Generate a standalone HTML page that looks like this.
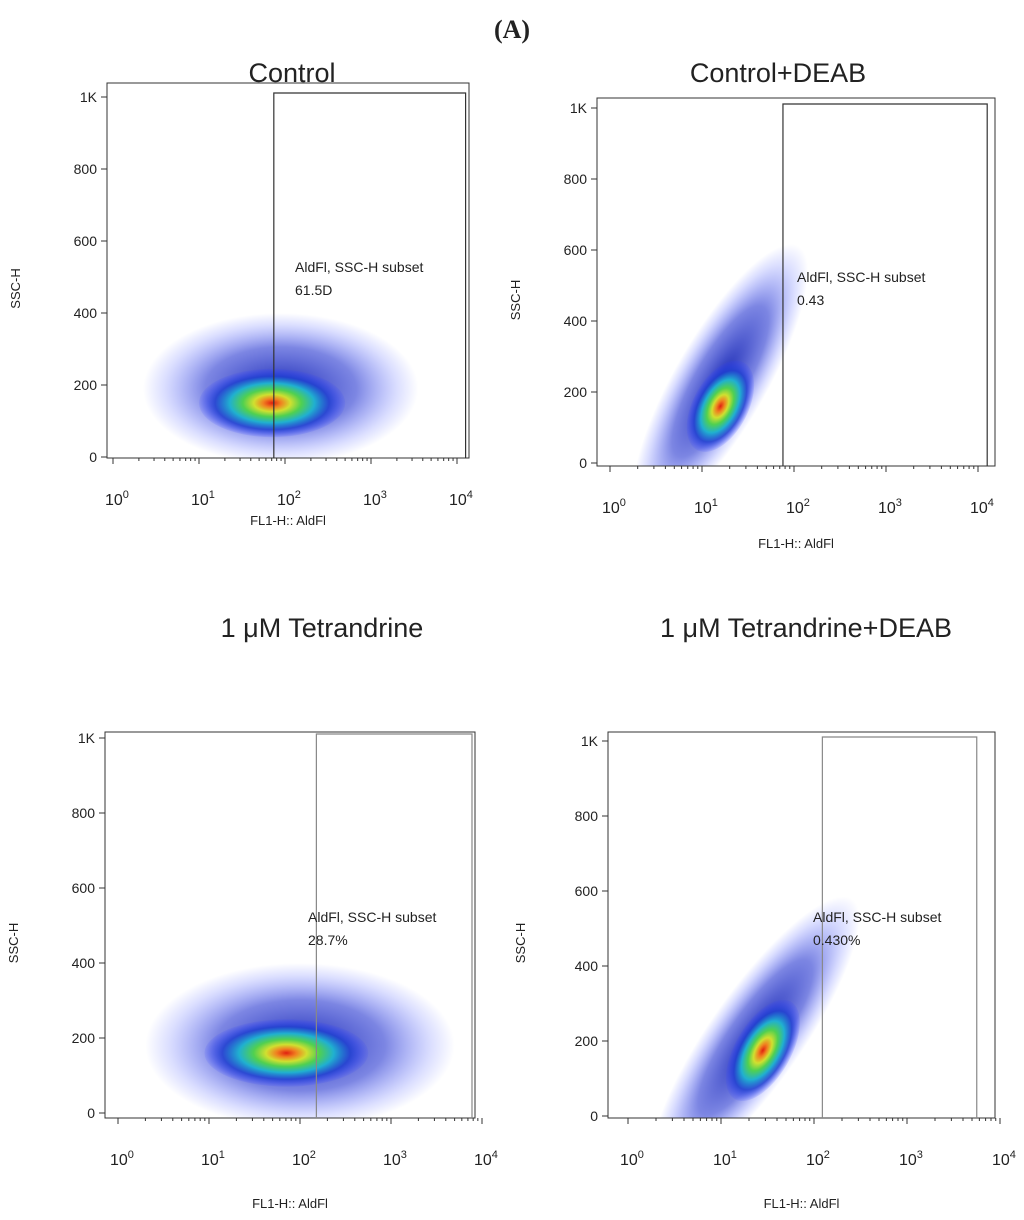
<!DOCTYPE html>
<html><head><meta charset="utf-8"><style>
body{margin:0;background:#fff;}
svg text{font-family:"Liberation Sans",sans-serif;fill:#222;}
</style></head><body>
<svg id="c" width="1024" height="1215" viewBox="0 0 1024 1215" xmlns="http://www.w3.org/2000/svg">
<defs>
<radialGradient id="dens">
<stop offset="0" stop-color="#e02010"/>
<stop offset="0.12" stop-color="#f08020"/>
<stop offset="0.25" stop-color="#d0e030"/>
<stop offset="0.4" stop-color="#50d050"/>
<stop offset="0.58" stop-color="#20b0d0"/>
<stop offset="0.78" stop-color="#2040d0" stop-opacity="0.85"/>
<stop offset="1" stop-color="#3040ff" stop-opacity="0.1"/>
</radialGradient>
<radialGradient id="halo">
<stop offset="0" stop-color="#1020b0" stop-opacity="0.95"/>
<stop offset="0.55" stop-color="#2535d0" stop-opacity="0.6"/>
<stop offset="0.85" stop-color="#5060ff" stop-opacity="0.2"/>
<stop offset="1" stop-color="#5060ff" stop-opacity="0"/>
</radialGradient>
</defs>
<text x="512" y="38" text-anchor="middle" font-size="26" font-weight="bold" style="font-family:'Liberation Serif',serif">(A)</text>
</svg>
<script>
// panel data
const panelTitles = ["Control","Control+DEAB","1 μM Tetrandrine","1 μM Tetrandrine+DEAB"];
const gateValues = ["61.5D","0.43","28.7%","0.430%"];
const yTickValues = [0,200,400,600,800,1000];
const yTickLabels = ["0","200","400","600","800","1K"];
const xTickDecades = [0,1,2,3,4];
const gateLeftDecade = [1.87,1.88,2.18,2.09];
const gateRightDecade = [4.1,4.1,3.89,3.75];
const gateTopValue = [1000,1000,1000,1000];
// clusters: [log10 x center, y center, x half-width (decades), y half-height, pixel rotation]
const haloClusters = [
 [1.95,190,1.6,210,0],
 [1.2,230,0.5,440,30],
 [2.0,180,1.7,220,0],
 [1.37,210,0.5,450,35]
];
const coreClusters = [
 [1.85,150,0.85,95,0],
 [1.2,160,0.3,140,28],
 [1.85,160,0.9,90,0],
 [1.45,175,0.3,150,30]
];
// layout (not data)
const L = [
 {fl:107,ft:83,fr:469,fb:458,x0:113,dec:86,y0:457,p2:72,tx:292,ty:82,ylx:20,xly:525,gl:295,gly:272},
 {fl:597,ft:98,fr:995,fb:466,x0:610,dec:92,y0:463,p2:71,tx:778,ty:82,ylx:520,xly:548,gl:797,gly:282},
 {fl:105,ft:732,fr:475,fb:1118,x0:118,dec:91,y0:1113,p2:75,tx:322,ty:637,ylx:18,xly:1208,gl:308,gly:922},
 {fl:608,ft:732,fr:995,fb:1118,x0:628,dec:93,y0:1116,p2:75,tx:806,ty:637,ylx:525,xly:1208,gl:813,gly:922}
];
const svg=document.getElementById('c');
const NS="http://www.w3.org/2000/svg";
function mk(t,a,p){const e=document.createElementNS(NS,t);for(const k in a)e.setAttribute(k,a[k]);(p||svg).appendChild(e);return e;}
L.forEach((l,i)=>{
 const g=mk('g',{});
 
 
 const X=d=>l.x0+d*l.dec, Y=v=>l.y0-v/200*l.p2;
 const clip=mk('clipPath',{id:'clip'+i},g);
 mk('rect',{x:l.fl,y:l.ft,width:l.fr-l.fl,height:l.fb-l.ft},clip);
 const dg=mk('g',{'clip-path':`url(#clip${i})`},g);
 [[haloClusters[i],'url(#halo)'],[coreClusters[i],'url(#dens)']].forEach(([c,f],k)=>{
  const cx=X(c[0]),cy=Y(c[1]),rx=c[2]*l.dec,ry=c[3]/200*l.p2;
  const e=mk('ellipse',{cx:cx,cy:cy,rx:rx,ry:ry,fill:f,transform:`rotate(${c[4]} ${cx} ${cy})`},dg);
  
  
 });
 const fr=mk('rect',{x:l.fl,y:l.ft,width:l.fr-l.fl,height:l.fb-l.ft,fill:'none',stroke:'#333','stroke-width':1},g);
 
 
 const gx1=X(gateLeftDecade[i]),gx2=Math.min(X(gateRightDecade[i]),l.fr-2),gy=Y(gateTopValue[i])-4;
 const gate=mk('path',{d:`M${gx1} ${l.fb}V${gy}H${gx2}V${l.fb}`,fill:'none',stroke:i<2?'#333':'#888','stroke-width':1.2},g);
 
 
 const gt=mk('text',{x:l.gl,y:l.gly,'font-size':14},g);gt.textContent='AldFl, SSC-H subset';
 
 
 const gv=mk('text',{x:l.gl,y:l.gly+23,'font-size':14},g);gv.textContent=gateValues[i];
 
 
 yTickValues.forEach((v,j)=>{
  const y=Y(v);
  mk('line',{x1:l.fl-6,x2:l.fl,y1:y,y2:y,stroke:'#333'},g);
  const t=mk('text',{x:l.fl-10,y:y+5,'font-size':14,'text-anchor':'end'},g);t.textContent=yTickLabels[j];
  
  
 });
 xTickDecades.forEach(d=>{
  const x=X(d);
  mk('line',{x1:x,x2:x,y1:l.fb,y2:l.fb+6,stroke:'#333'},g);
  if(d<4)for(let m=2;m<10;m++){const xm=X(d+Math.log10(m));mk('line',{x1:xm,x2:xm,y1:l.fb,y2:l.fb+3,stroke:'#333'},g);}
  const t=mk('text',{x:x-8,y:l.fb+47,'font-size':16},g);
  t.innerHTML=`10<tspan dy="-7" font-size="11">${d}</tspan>`;
  
  
 });
 const yl=mk('text',{x:l.ylx,y:(l.ft+l.fb)/2+18,'font-size':13,transform:`rotate(-90 ${l.ylx} ${(l.ft+l.fb)/2+18})`,'text-anchor':'middle'},g);
 yl.textContent='SSC-H';
 
 
 const xl=mk('text',{x:(l.fl+l.fr)/2,y:l.xly,'font-size':13,'text-anchor':'middle'},g);
 xl.textContent='FL1-H:: AldFl';
 
 
 const tt=mk('text',{x:l.tx,y:l.ty,'font-size':27,'text-anchor':'middle'},g);
 tt.textContent=panelTitles[i];
 
 
});
</script>
</body></html>
